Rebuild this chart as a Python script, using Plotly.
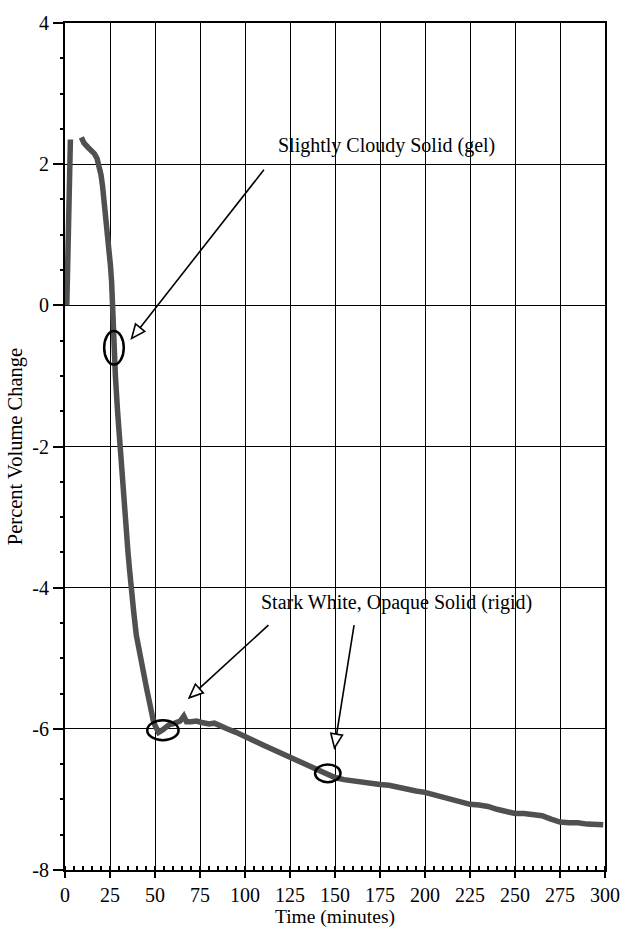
import plotly.graph_objects as go

# ---- data ----
t_fill = [1.0, 1.4, 1.8, 2.3, 2.8, 3.0]
v_fill = [0.0, 0.5, 1.0, 1.5, 2.0, 2.35]

t_main = [9.1, 10.5, 12.7, 14.5, 16.3, 17.8, 19.0, 20.0, 20.9, 21.8, 22.7, 23.6, 24.5,
          25.3, 25.9, 26.3, 26.8, 27.2, 28.0, 29.2, 30.5, 31.8, 33.0, 34.0, 35.0, 36.0,
          36.7, 38.2, 39.6, 41.0, 42.5, 44.0, 45.5, 47.0, 48.0, 49.0, 50.0, 51.0, 52.0,
          54.0, 56.0, 58.0, 60.0, 62.0, 64.0, 66.0, 67.5, 70.0, 73.0, 76.0, 80.0, 83.0,
          86.0, 90.0, 95.0, 100.0, 105.0, 110.0, 115.0, 120.0, 125.0, 130.0, 135.0,
          140.0, 145.0, 150.0, 155.0, 160.0, 165.0, 170.0, 175.0, 180.0, 185.0, 190.0,
          195.0, 200.0, 205.0, 210.0, 215.0, 220.0, 225.0, 230.0, 235.0, 240.0, 245.0,
          250.0, 255.0, 260.0, 265.0, 270.0, 275.0, 280.0, 285.0, 290.0, 295.0, 299.0]
v_main = [2.38, 2.3, 2.24, 2.2, 2.15, 2.08, 1.96, 1.85, 1.68, 1.48, 1.26, 1.03, 0.79,
          0.55, 0.33, 0.0, -0.3, -0.6, -1.0, -1.5, -2.0, -2.45, -2.9, -3.2, -3.5, -3.78,
          -4.0, -4.35, -4.67, -4.88, -5.06, -5.25, -5.45, -5.63, -5.8, -5.88, -5.95, -6.02,
          -6.05, -6.02, -5.97, -5.94, -5.93, -5.91, -5.89, -5.82, -5.9, -5.9, -5.89, -5.91,
          -5.93, -5.92, -5.96, -6.0, -6.05, -6.1, -6.17, -6.23, -6.29, -6.35, -6.4, -6.46,
          -6.52, -6.58, -6.64, -6.69, -6.72, -6.74, -6.75, -6.77, -6.79, -6.8, -6.83,
          -6.85, -6.88, -6.9, -6.93, -6.97, -7.0, -7.03, -7.07, -7.08, -7.1, -7.14, -7.17,
          -7.2, -7.2, -7.21, -7.23, -7.28, -7.32, -7.33, -7.33, -7.35, -7.36, -7.36]

x_ticks = [0, 25, 50, 75, 100, 125, 150, 175, 200, 225, 250, 275, 300]
y_ticks = [4, 2, 0, -2, -4, -6, -8]
y_tick_text = ["4", "2", "0", "-2", "-4", "-6", "-8"]

# ---- layout geometry ----
W, H = 632, 932
ML, MR, MT, MB = 65, 16, 20, 55
X_RANGE = [0, 300]
Y_RANGE = [-8, 4]
SX = (W - ML - MR) / (X_RANGE[1] - X_RANGE[0])   # px per minute
SY = (H - MT - MB) / (Y_RANGE[1] - Y_RANGE[0])   # px per unit

FONT = "Liberation Serif, Times New Roman, serif"
CURVE = "rgb(80,80,80)"

fig = go.Figure()
for tx, vy in ((t_fill, v_fill), (t_main, v_main)):
    fig.add_trace(go.Scatter(x=tx, y=vy, mode="lines",
                             line=dict(color=CURVE, width=5.5),
                             hoverinfo="skip", showlegend=False))

shapes = []


def ellipse(cx, cy, rx_px, ry_px):
    shapes.append(dict(type="circle", xref="x", yref="y",
                       x0=cx - rx_px / SX, x1=cx + rx_px / SX,
                       y0=cy - ry_px / SY, y1=cy + ry_px / SY,
                       line=dict(color="black", width=2.5)))


def arrow(tail, tip, head_len=14, head_w=12):
    # work in pixel space (y down) then convert back
    tx, ty = tail[0] * SX, -tail[1] * SY
    hx, hy = tip[0] * SX, -tip[1] * SY
    dx, dy = hx - tx, hy - ty
    L = (dx * dx + dy * dy) ** 0.5
    ux, uy = dx / L, dy / L
    bx, by = hx - ux * head_len, hy - uy * head_len
    px_, py_ = -uy, ux
    lx, ly = bx + px_ * head_w / 2, by + py_ * head_w / 2
    rx, ry = bx - px_ * head_w / 2, by - py_ * head_w / 2

    def d(x, y):
        return x / SX, -y / SY
    b = d(bx, by)
    shapes.append(dict(type="line", xref="x", yref="y",
                       x0=tail[0], y0=tail[1], x1=b[0], y1=b[1],
                       line=dict(color="black", width=1.6)))
    p1, p2, p3 = d(hx, hy), d(lx, ly), d(rx, ry)
    shapes.append(dict(type="path", xref="x", yref="y",
                       path=f"M {p1[0]} {p1[1]} L {p2[0]} {p2[1]} L {p3[0]} {p3[1]} Z",
                       fillcolor="white", line=dict(color="black", width=1.6)))


ellipse(27.2, -0.6, 10, 17)
ellipse(54.4, -6.02, 16, 10)
ellipse(146.0, -6.63, 13, 9)

arrow((110.5, 1.92), (37.0, -0.47))
arrow((113.0, -4.53), (69.0, -5.56))
arrow((160.6, -4.53), (149.7, -6.27))

annotations = [
    dict(x=117, y=2.27, xref="x", yref="y", text="Slightly Cloudy Solid (gel)",
         showarrow=False, xanchor="left", yanchor="middle",
         font=dict(family=FONT, size=20, color="black")),
    dict(x=108, y=-4.21, xref="x", yref="y", text="Stark White, Opaque Solid (rigid)",
         showarrow=False, xanchor="left", yanchor="middle",
         font=dict(family=FONT, size=20, color="black")),
]

fig.update_layout(
    width=W, height=H,
    margin=dict(l=ML, r=MR, t=MT, b=MB, pad=0),
    paper_bgcolor="white", plot_bgcolor="white",
    font=dict(family=FONT, size=20, color="black"),
    shapes=shapes, annotations=annotations,
    showlegend=False,
)

fig.update_xaxes(
    range=X_RANGE, tickvals=x_ticks, ticktext=[str(v) for v in x_ticks],
    showgrid=True, gridcolor="black", gridwidth=1, zeroline=False,
    showline=True, linecolor="black", linewidth=2, mirror=True,
    ticks="outside", ticklen=6, tickwidth=1.5, tickcolor="black",
    minor=dict(dtick=5, ticks="inside", ticklen=4, tickcolor="black", showgrid=False),
    tickfont=dict(family=FONT, size=20),
    title=dict(text="Time (minutes)", font=dict(family=FONT, size=19.5), standoff=0),
)
fig.update_yaxes(
    range=Y_RANGE, tickvals=y_ticks, ticktext=y_tick_text,
    showgrid=True, gridcolor="black", gridwidth=1, zeroline=False,
    showline=True, linecolor="black", linewidth=2, mirror=True,
    ticks="outside", ticklen=10, tickwidth=1.5, tickcolor="black",
    minor=dict(dtick=0.5, ticks="outside", ticklen=3, tickcolor="black", showgrid=False),
    tickfont=dict(family=FONT, size=20),
    title=dict(text="Percent Volume Change", font=dict(family=FONT, size=20.5), standoff=4),
)

fig.write_html("out.html")
